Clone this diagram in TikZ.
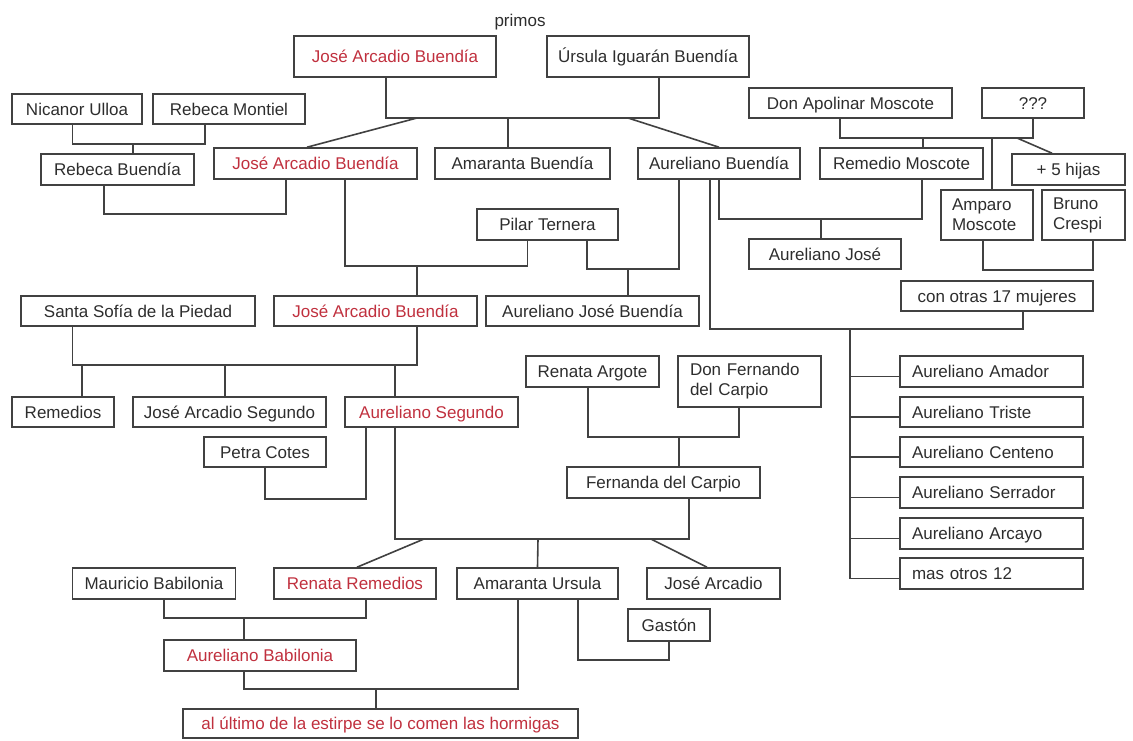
\documentclass[tikz,border=0pt]{standalone}
\usepackage{fontspec}
\setmainfont{Liberation Sans}
\usepackage{tikz}

\definecolor{kinred}{RGB}{192,48,62}
\definecolor{ink}{RGB}{45,45,45}
\definecolor{wire}{RGB}{65,65,65}

\begin{document}
\begin{tikzpicture}[x=1pt,y=-1pt]
    \tikzstyle{edge} = [line width=1.6pt,draw=wire]
    \tikzstyle{person}=[
      draw=wire,
      rectangle,
      line width=1.6pt,
      anchor=center,
      inner sep=0pt,
      minimum height=31,
      text height=12.2,
      text depth=0,
      text=ink,
      font=\fontsize{17}{20}\selectfont,
    ]
    \tikzstyle{heir}=[person,text=kinred]
    \tikzstyle{twoline}=[person,align=left,inner xsep=11pt,minimum height=50,text height=,text depth=]
    \tikzstyle{son}=[person,align=left,inner xsep=12pt,text width=159]

    \useasboundingbox (0,0) rectangle (1133,740);

    \node[text=ink,font=\fontsize{17}{20}\selectfont] (primos) at (520,22) {primos};
    \node[heir,minimum width=202,minimum height=41] (jab1) at (395,56.5) {José Arcadio Buendía};
    \node[person,minimum width=202,minimum height=41] (ursula) at (648,56.5) {Úrsula Iguarán Buendía};
    \node[person,minimum width=130,minimum height=30] (nicanor) at (77,109) {Nicanor Ulloa};
    \node[person,minimum width=152,minimum height=30] (montiel) at (229,109) {Rebeca Montiel};
    \node[person,minimum width=203,minimum height=30] (apolinar) at (850.5,103) {Don Apolinar Moscote};
    \node[person,minimum width=102,minimum height=30] (unknown) at (1033,103) {???};
    \node[person,minimum width=153] (rebeca) at (117.5,169.5) {Rebeca Buendía};
    \node[heir,minimum width=203] (jab2) at (315.5,163.5) {José Arcadio Buendía};
    \node[person,minimum width=175] (amaranta) at (522.5,163.5) {Amaranta Buendía};
    \node[person,minimum width=162] (aureliano) at (719,163.5) {Aureliano Buendía};
    \node[person,minimum width=163] (remedio) at (901.5,163.5) {Remedio Moscote};
    \node[person,minimum width=113] (hijas) at (1068.5,169.5) {+ 5 hijas};
    \node[twoline,text width=70] (amparo) at (987,215) {Amparo\\Moscote};
    \node[twoline,text width=61] (bruno) at (1083.5,215) {Bruno\\Crespi};
    \node[person,minimum width=141] (pilar) at (547.5,224.5) {Pilar Ternera};
    \node[person,minimum width=152,minimum height=30] (aurjose) at (825,254) {Aureliano José};
    \node[person,minimum width=192,minimum height=30] (otras) at (997,296) {con otras 17 mujeres};
    \node[person,minimum width=234,minimum height=30] (santa) at (138,311) {Santa Sofía de la Piedad};
    \node[heir,minimum width=203,minimum height=30] (jab3) at (375.5,311) {José Arcadio Buendía};
    \node[person,minimum width=213,minimum height=30] (ajb) at (592.5,311) {Aureliano José Buendía};

    \node[person,minimum width=133] (argote) at (592.5,371.5) {Renata Argote};
    \node[twoline,inner xsep=12pt,text width=119,minimum height=51] (fernando) at (749.5,381.5) {Don Fernando\\del Carpio};
    \node[person,minimum width=193] (fernanda) at (663.5,482.5) {Fernanda del Carpio};
    \node[son] (amador) at (991.5,371.5) {Aureliano Amador};
    \node[son,minimum height=30] (triste) at (991.5,412) {Aureliano Triste};
    \node[son,minimum height=30] (centeno) at (991.5,452) {Aureliano Centeno};
    \node[son] (serrador) at (991.5,492.5) {Aureliano Serrador};
    \node[son] (arcayo) at (991.5,533.5) {Aureliano Arcayo};
    \node[son] (otros) at (991.5,573.5) {mas otros 12};

    \node[person,minimum width=102,minimum height=30] (remedios) at (63,412) {Remedios};
    \node[person,minimum width=193,minimum height=30] (jas) at (229.5,412) {José Arcadio Segundo};
    \node[heir,minimum width=173,minimum height=30] (aseg) at (431.5,412) {Aureliano Segundo};
    \node[person,minimum width=122,minimum height=30] (petra) at (265,452) {Petra Cotes};
    \node[person,minimum width=163] (mauricio) at (154,583.5) {Mauricio Babilonia};
    \node[heir,minimum width=162] (rremedios) at (355,583.5) {Renata Remedios};
    \node[person,minimum width=161] (aursula) at (537.5,583.5) {Amaranta Ursula};
    \node[person,minimum width=133] (jarcadio) at (713.5,583.5) {José Arcadio};
    \node[person,minimum width=82,minimum height=32] (gaston) at (669,625) {Gastón};
    \node[heir,minimum width=192] (ababilonia) at (260,655.5) {Aureliano Babilonia};
    \node[heir,minimum width=395,minimum height=29] (ultimo) at (380.5,723.5) {al último de la estirpe se lo comen las hormigas};

    % Jose Arcadio + Ursula
    \coordinate (k1) at (508,118);
    \draw[edge] ([xshift=-9]jab1.south) |- (k1) -| ([xshift=11]ursula.south);
    \draw[edge] ([xshift=-91]k1) -- ([xshift=-8.5]jab2.north);
    \draw[edge] (k1) -- ([xshift=-14.5]amaranta.north);
    \draw[edge] ([xshift=120]k1) -- (aureliano.north);

    % Nicanor + Rebeca Montiel
    \coordinate (k2) at (133,144);
    \draw[edge] ([xshift=-4.5]nicanor.south) |- (k2) -| ([xshift=-24]montiel.south);
    \draw[edge] (k2) -- ([xshift=15.5]rebeca.north);

    % Rebeca + Jose Arcadio
    \draw[edge] ([xshift=-13.5]rebeca.south) -- ++(0,28) -| ([xshift=-29.5]jab2.south);

    % Jose Arcadio + Pilar
    \coordinate (k3) at (417,266);
    \draw[edge] ([xshift=29.5]jab2.south) |- (k3) -| ([xshift=-20]pilar.south);
    \draw[edge] (k3) -- ([xshift=41.5]jab3.north);

    % Aureliano + Pilar
    \coordinate (k4) at (628,269);
    \draw[edge] ([xshift=-40]aureliano.south) |- (k4) -| ([xshift=39.5]pilar.south);
    \draw[edge] (k4) -- ([xshift=35.5]ajb.north);

    % Aureliano + Remedio
    \coordinate (k5) at (821,219);
    \draw[edge] (aureliano.south) |- (k5) -| ([xshift=20.5]remedio.south);
    \draw[edge] (k5) -- ([xshift=-4]aurjose.north);

    % Apolinar + ???
    \coordinate (k6) at (923,138);
    \draw[edge] ([xshift=-10.5]apolinar.south) |- (k6) -| (unknown.south);
    \draw[edge] (k6) -- ([xshift=21.5]remedio.north);
    \draw[edge] ([xshift=69]k6) -- ([xshift=5]amparo.north);
    \draw[edge] ([xshift=94]k6) -- ([xshift=-16.5]hijas.north);

    % Amparo + Bruno
    \draw[edge] ([xshift=-4]amparo.south) -- ++(0,29) -| ([xshift=9.5]bruno.south);

    % Aureliano + 17 mujeres
    \coordinate (k7) at (850,329);
    \draw[edge] ([xshift=-9]aureliano.south) |- (k7) -| ([xshift=26]otras.south);
    \draw[edge] (k7) |- ([yshift=-5]otros.west);
    \draw[edge] ([yshift=-5]amador.west) -- ++(-50,0);
    \draw[edge] ([yshift=-5]triste.west) -- ++(-50,0);
    \draw[edge] ([yshift=-5]centeno.west) -- ++(-50,0);
    \draw[edge] ([yshift=-5]serrador.west) -- ++(-50,0);
    \draw[edge] ([yshift=-5]arcayo.west) -- ++(-50,0);

    % Santa Sofia + Jose Arcadio
    \coordinate (k8) at (225,365);
    \draw[edge] ([xshift=-65.5]santa.south) |- (k8) -| ([xshift=41.5]jab3.south);
    \draw[edge] ([xshift=-143]k8) -- ([xshift=19]remedios.north);
    \draw[edge] (k8) -- ([xshift=-4.5]jas.north);
    \draw[edge] ([xshift=170]k8) -- ([xshift=-36.5]aseg.north);

    % Petra + Aureliano Segundo
    \draw[edge] (petra.south) -- ++(0,31) -| ([xshift=-65.5]aseg.south);

    % Renata Argote + Don Fernando
    \coordinate (k9) at (679,437);
    \draw[edge] ([xshift=-4.5]argote.south) |- (k9) -| ([xshift=-10.5]fernando.south);
    \draw[edge] (k9) -- ([xshift=15.5]fernanda.north);

    % Aureliano Segundo + Fernanda
    \coordinate (k10) at (538,539);
    \draw[edge] ([xshift=-36.5]aseg.south) |- (k10) -| ([xshift=25.5]fernanda.south);
    \draw[edge] ([xshift=-114]k10) -- ([xshift=2]rremedios.north);
    \draw[edge] (k10) -- (aursula.north);
    \draw[edge] ([xshift=113]k10) -- ([xshift=-6.5]jarcadio.north);

    % Amaranta Ursula + Gaston
    \draw[edge] ([xshift=40.5]aursula.south) -- ++(0,60) -| (gaston.south);

    % Mauricio + Renata Remedios
    \coordinate (k11) at (244,618);
    \draw[edge] ([xshift=10]mauricio.south) |- (k11) -| ([xshift=11]rremedios.south);
    \draw[edge] (k11) -- ([xshift=-16]ababilonia.north);

    % Aureliano Babilonia + Amaranta Ursula
    \coordinate (k12) at (376,689);
    \draw[edge] ([xshift=-16]ababilonia.south) |- (k12) -| ([xshift=-19.5]aursula.south);
    \draw[edge] (k12) -- ([xshift=-4.5]ultimo.north);
\end{tikzpicture}
\end{document}
